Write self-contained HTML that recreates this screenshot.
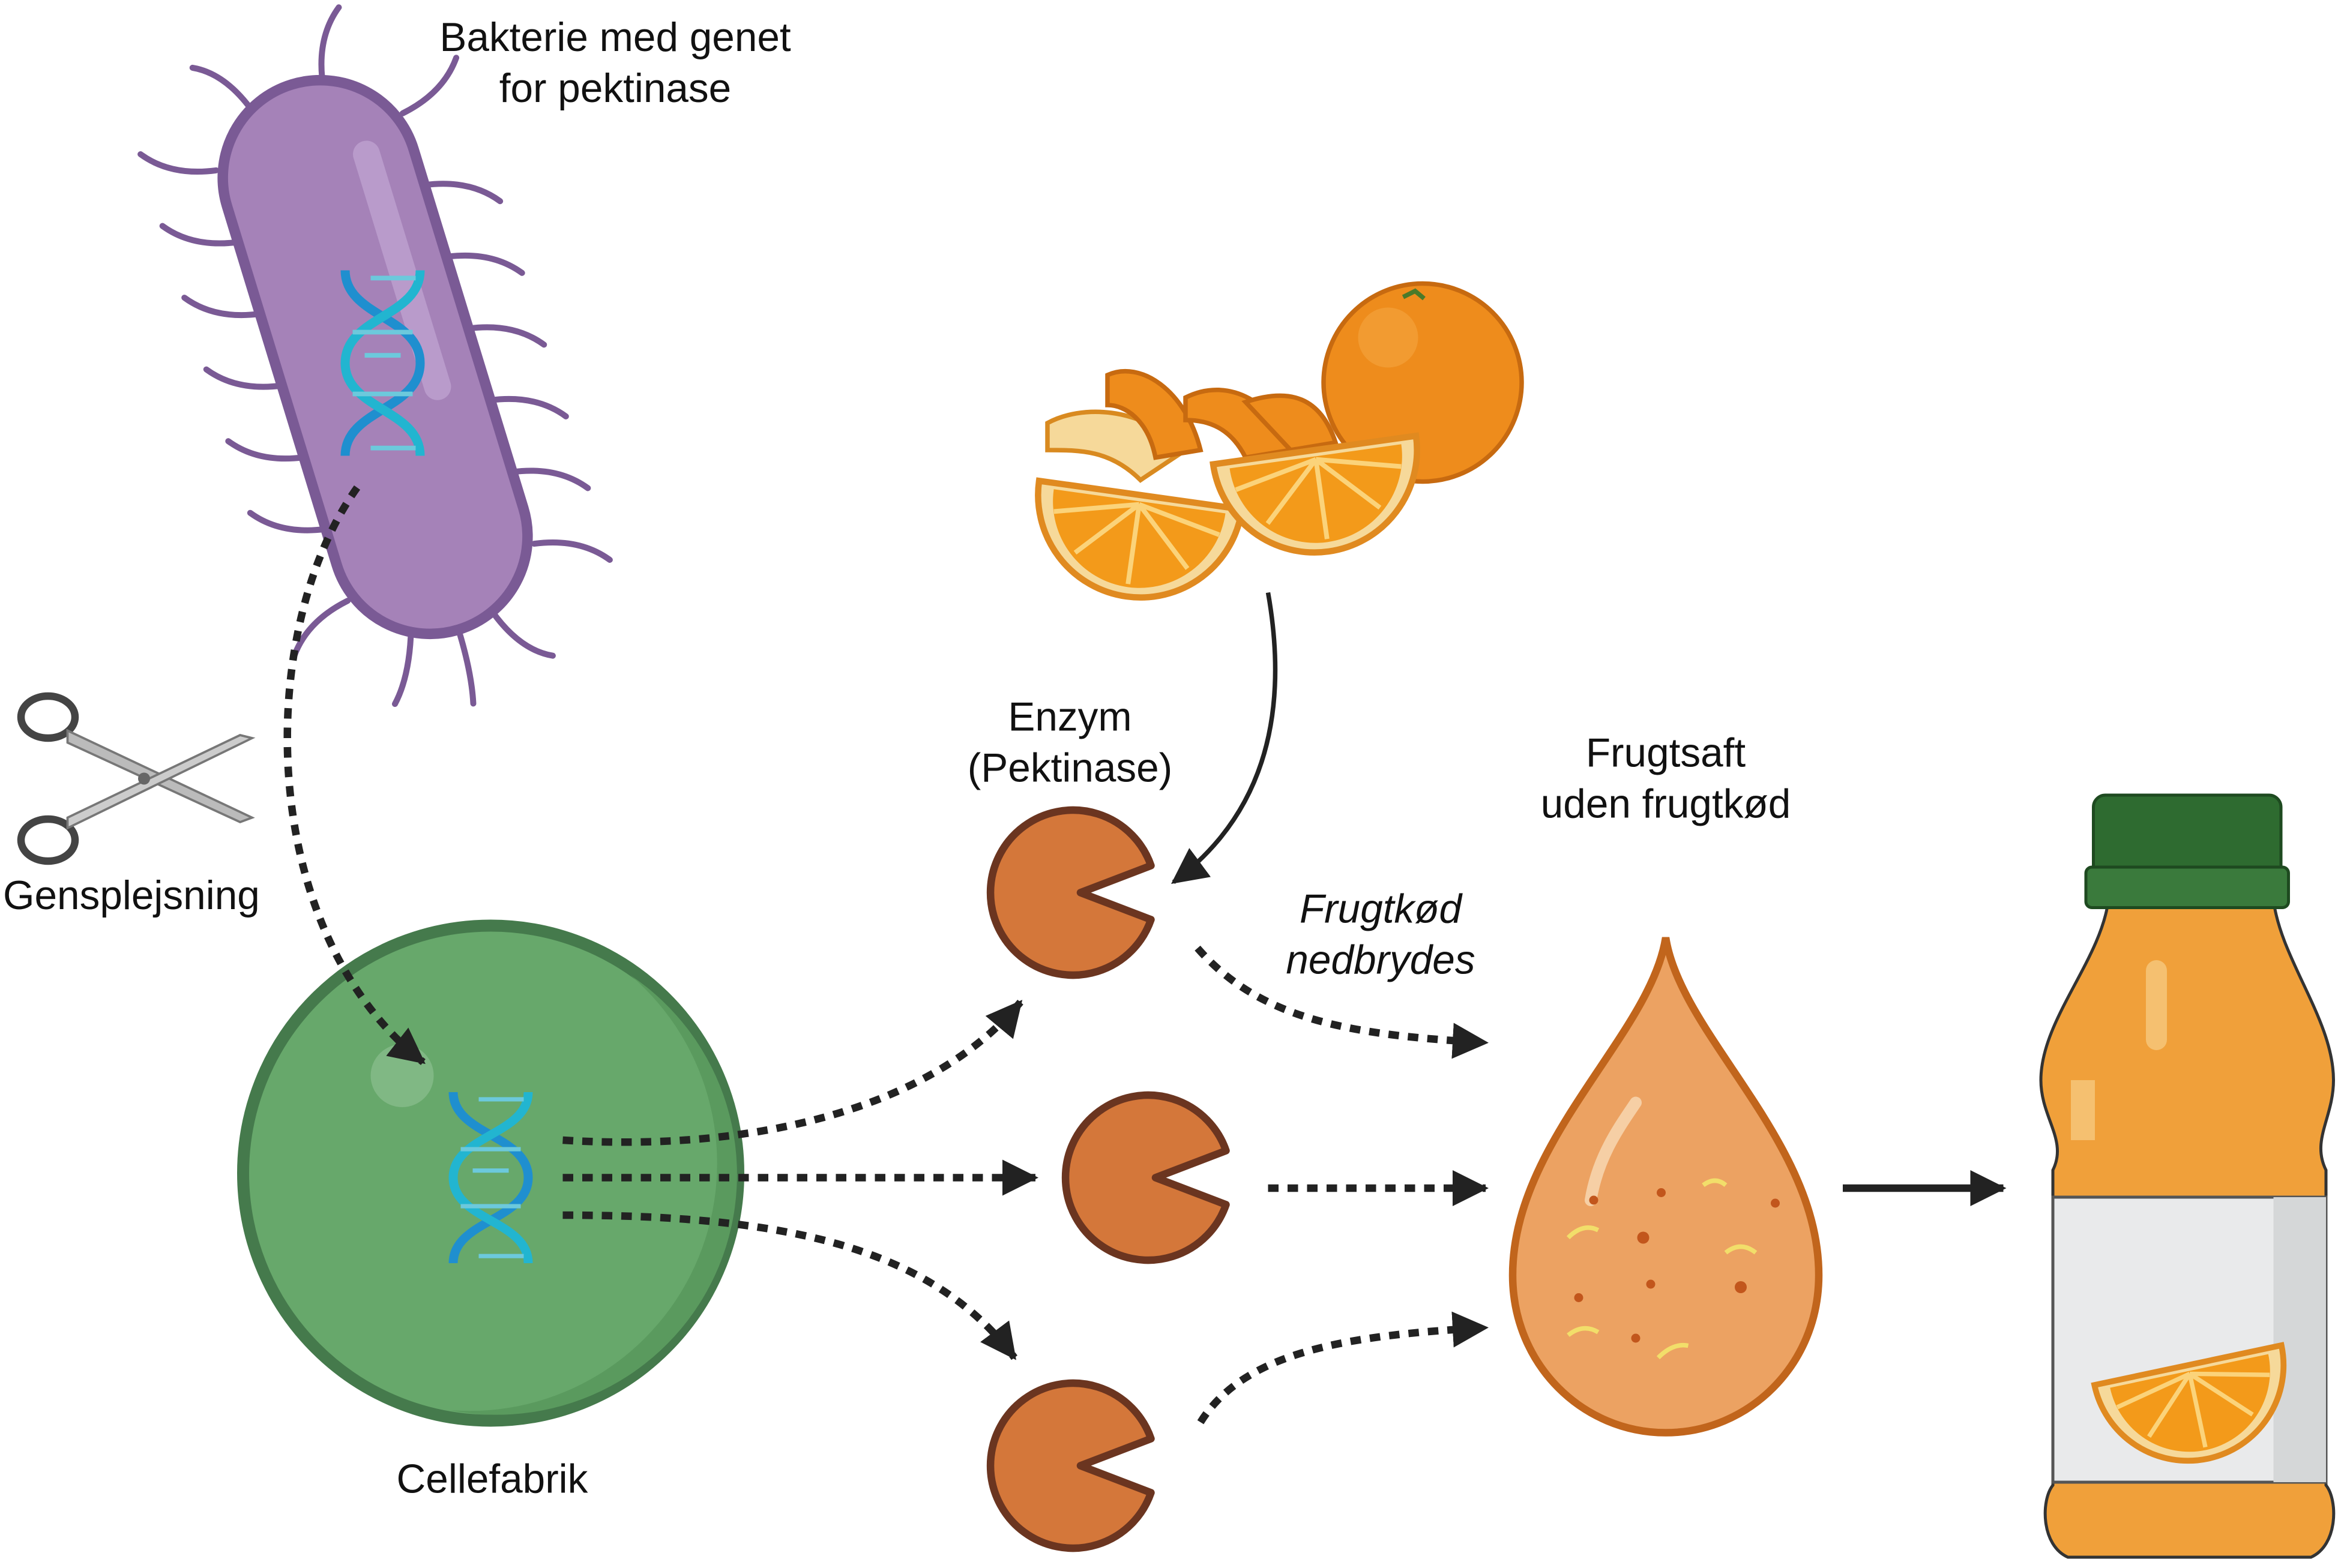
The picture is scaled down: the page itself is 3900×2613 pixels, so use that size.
<!DOCTYPE html>
<html><head><meta charset="utf-8"><style>
html,body{margin:0;padding:0;background:#fff;}
svg{display:block;}
text{font-family:"Liberation Sans",sans-serif;fill:#111;}
</style></head><body>
<svg width="3900" height="2613" viewBox="0 0 1560 1045.2" xmlns="http://www.w3.org/2000/svg">
<defs>
<marker id="ah2" markerWidth="26" markerHeight="24" refX="22" refY="12" orient="auto" markerUnits="userSpaceOnUse">
<path d="M0,0 L24,12 L0,24 z" fill="#222"/></marker>
<g id="dna">
<path d="M-25,-60 C-25,-30 25,-30 25,0 C25,30 -25,30 -25,60" fill="none" stroke="#1f8fcf" stroke-width="6"/>
<path d="M25,-60 C25,-30 -25,-30 -25,0 C-25,30 25,30 25,60" fill="none" stroke="#22b5d0" stroke-width="6"/>
<g stroke="#6cc9dc" stroke-width="3"><line x1="-8" y1="-55" x2="22" y2="-55"/><line x1="-12" y1="-5" x2="12" y2="-5"/><line x1="-20" y1="-20" x2="20" y2="-20"/><line x1="-20" y1="20" x2="20" y2="20"/><line x1="-8" y1="55" x2="22" y2="55"/></g>
</g>
<g id="pac">
<path d="M52,-18 A55,55 0 1 0 52,18 L5,0 z" fill="#d4773a" stroke="#6b3520" stroke-width="5" stroke-linejoin="round"/>
</g>
<g id="slice">
<path d="M-65,0 A65,65 0 0 0 65,0 z" fill="#f6d99a" stroke="#e08a20" stroke-width="4"/>
<path d="M-55,4 A55,55 0 0 0 55,4 z" fill="#f39a1a"/>
<g stroke="#fbd37a" stroke-width="3"><line x1="0" y1="6" x2="0" y2="57"/><line x1="0" y1="6" x2="-36" y2="42"/><line x1="0" y1="6" x2="36" y2="42"/><line x1="0" y1="6" x2="-53" y2="18"/><line x1="0" y1="6" x2="53" y2="18"/></g>
</g>
</defs>

<!-- bacterium -->
<g transform="translate(250,238) rotate(-17)">
<g stroke="#7a5a95" stroke-width="4" fill="none" stroke-linecap="round">
<path d="M-65,-150 q-30,-5 -45,-25"/><path d="M-65,-100 q-30,-5 -45,-25"/><path d="M-65,-50 q-30,-5 -45,-25"/><path d="M-65,0 q-30,-5 -45,-25"/><path d="M-65,50 q-30,-5 -45,-25"/><path d="M-65,100 q-30,-5 -45,-25"/><path d="M-65,150 q-30,5 -45,25"/>
<path d="M65,-150 q30,-5 45,-25"/><path d="M65,-100 q30,5 45,25"/><path d="M65,-50 q30,5 45,25"/><path d="M65,0 q30,5 45,25"/><path d="M65,50 q30,5 45,25"/><path d="M65,100 q30,5 45,25"/><path d="M65,150 q30,5 45,25"/>
<path d="M-30,-180 q-10,-30 -30,-40"/><path d="M20,-185 q5,-30 25,-45"/><path d="M-30,180 q-10,30 -25,45"/><path d="M25,185 q10,30 30,40"/><path d="M0,190 q0,30 -5,50"/>
</g>
<rect x="-65" y="-190" width="130" height="380" rx="65" fill="#a582b8" stroke="#7a5a95" stroke-width="7"/>
<rect x="25" y="-140" width="18" height="180" rx="9" fill="#b99bcb"/>
</g>
<use href="#dna" transform="translate(255,242) scale(1,1.03)"/>
<text x="410" y="34" font-size="27" text-anchor="middle">Bakterie med genet</text>
<text x="410" y="68" font-size="27" text-anchor="middle">for pektinase</text>

<!-- scissors -->
<g stroke="#444" fill="none" stroke-width="5">
<ellipse cx="32" cy="478" rx="18" ry="14"/><ellipse cx="32" cy="560" rx="18" ry="14"/>
</g>
<path d="M45,487 L168,545 L160,548 L45,495 z" fill="#bbb" stroke="#777" stroke-width="1.5"/>
<path d="M45,552 L168,492 L160,490 L45,545 z" fill="#ccc" stroke="#777" stroke-width="1.5"/>
<circle cx="96" cy="519" r="4" fill="#666"/>
<text x="2" y="606" font-size="27">Gensplejsning</text>

<!-- cell -->
<circle cx="327" cy="782" r="165" fill="#67a86b" stroke="#457a4c" stroke-width="8"/>
<path d="M420,650 A160,160 0 0 1 300,940 A165,165 0 0 0 420,650 z" fill="#5a9a5e"/>
<circle cx="268" cy="717" r="21" fill="#80b884"/>
<use href="#dna" transform="translate(327,785) scale(1,0.95)"/>
<text x="328" y="995" font-size="27" text-anchor="middle">Cellefabrik</text>

<!-- dotted arrow bacterium->cell -->
<path d="M238,325 C170,420 170,620 282,708" fill="none" stroke="#222" stroke-width="5" stroke-dasharray="7,6" marker-end="url(#ah2)"/>

<!-- arrows from cell -->
<g fill="none" stroke="#222" stroke-width="5" stroke-dasharray="7,6">
<path d="M375,760 C500,768 620,740 680,668" marker-end="url(#ah2)"/>
<path d="M375,785 L690,785" marker-end="url(#ah2)"/>
<path d="M375,810 C520,810 620,830 676,905" marker-end="url(#ah2)"/>
<path d="M798,632 C840,680 900,690 990,695" marker-end="url(#ah2)"/>
<path d="M845,792 L990,792" marker-end="url(#ah2)"/>
<path d="M800,948 C830,900 900,890 990,885" marker-end="url(#ah2)"/>
</g>

<!-- pacmen -->
<use href="#pac" transform="translate(715,595)"/>
<use href="#pac" transform="translate(765,785)"/>
<use href="#pac" transform="translate(715,977)"/>
<text x="713" y="487" font-size="27" text-anchor="middle">Enzym</text>
<text x="713" y="521" font-size="27" text-anchor="middle">(Pektinase)</text>
<text x="920" y="615" font-size="27" text-anchor="middle" font-style="italic">Frugtkød</text>
<text x="920" y="649" font-size="27" text-anchor="middle" font-style="italic">nedbrydes</text>

<!-- oranges -->
<circle cx="948" cy="255" r="66" fill="#ee8c1c" stroke="#c76a10" stroke-width="3"/>
<circle cx="925" cy="225" r="20" fill="#f5a540" opacity="0.6"/>
<path d="M935,198 l8,-4 l6,5" stroke="#4a7a2a" stroke-width="3" fill="none"/>
<path d="M698,282 C720,270 760,270 790,300 L760,320 C740,300 720,300 698,300 z" fill="#f6d99a" stroke="#d98a20" stroke-width="3"/>
<path d="M738,250 C760,240 790,260 800,300 L770,305 C765,280 750,270 738,270 z" fill="#ee8c1c" stroke="#c76a10" stroke-width="3"/>
<path d="M790,265 C820,250 850,270 860,300 L830,305 C820,285 805,280 790,280 z" fill="#ee8c1c" stroke="#c76a10" stroke-width="3"/>
<path d="M830,268 C860,258 880,265 890,295 L860,300 z" fill="#ee8c1c" stroke="#c76a10" stroke-width="3"/>
<use href="#slice" transform="translate(760,330) rotate(8) scale(1.05)"/>
<use href="#slice" transform="translate(876,300) rotate(-8) scale(1.05)"/>

<!-- curved solid arrow -->
<path d="M845,395 C860,480 840,545 782,588" fill="none" stroke="#222" stroke-width="3" marker-end="url(#ah2)"/>

<!-- drop -->
<text x="1110" y="511" font-size="27" text-anchor="middle">Frugtsaft</text>
<text x="1110" y="545" font-size="27" text-anchor="middle">uden frugtkød</text>
<path d="M1110,625 C1100,690 1008,760 1008,850 C1008,910 1055,955 1110,955 C1165,955 1212,910 1212,850 C1212,760 1120,690 1110,625 z" fill="#eca262" stroke="#c1651c" stroke-width="5"/>
<path d="M1060,800 C1065,770 1080,750 1090,735" stroke="#f6cfa5" stroke-width="8" fill="none" stroke-linecap="round"/>
<g fill="#c2561c"><circle cx="1062" cy="800" r="3"/><circle cx="1095" cy="825" r="4"/><circle cx="1160" cy="858" r="4"/><circle cx="1183" cy="802" r="3"/><circle cx="1100" cy="856" r="3"/><circle cx="1052" cy="865" r="3"/><circle cx="1090" cy="892" r="3"/><circle cx="1107" cy="795" r="3"/></g>
<g stroke="#f2de6a" stroke-width="3" fill="none"><path d="M1045,825 q10,-10 20,-5"/><path d="M1150,835 q10,-8 20,0"/><path d="M1045,890 q10,-8 20,-2"/><path d="M1105,905 q10,-10 20,-8"/><path d="M1135,790 q8,-6 15,0"/></g>

<!-- arrow -->
<line x1="1228" y1="792" x2="1335" y2="792" stroke="#222" stroke-width="5" marker-end="url(#ah2)"/>

<!-- bottle -->
<path d="M1405,600 L1515,600 C1520,640 1555,680 1555,720 C1555,745 1540,760 1550,780 L1550,990 C1558,1000 1558,1030 1540,1038 L1378,1038 C1360,1030 1360,1000 1368,990 L1368,780 C1378,760 1360,745 1360,720 C1360,680 1400,640 1405,600 z" fill="#f0a03a" stroke="#333" stroke-width="2"/>
<rect x="1368" y="798" width="182" height="190" fill="#e9eaeb" stroke="#555" stroke-width="2"/>
<rect x="1515" y="798" width="35" height="190" fill="#d5d7d8"/>
<rect x="1380" y="720" width="16" height="40" fill="#f5c070"/>
<rect x="1430" y="640" width="14" height="60" rx="7" fill="#f5c070"/>
<rect x="1395" y="530" width="125" height="75" rx="8" fill="#2e6b30" stroke="#1e4a20" stroke-width="2"/>
<rect x="1390" y="578" width="135" height="27" rx="4" fill="#3a7a3c" stroke="#1e4a20" stroke-width="2"/>
<use href="#slice" transform="translate(1458,910) rotate(-12) scale(0.98)"/>
</svg>
</body></html>
